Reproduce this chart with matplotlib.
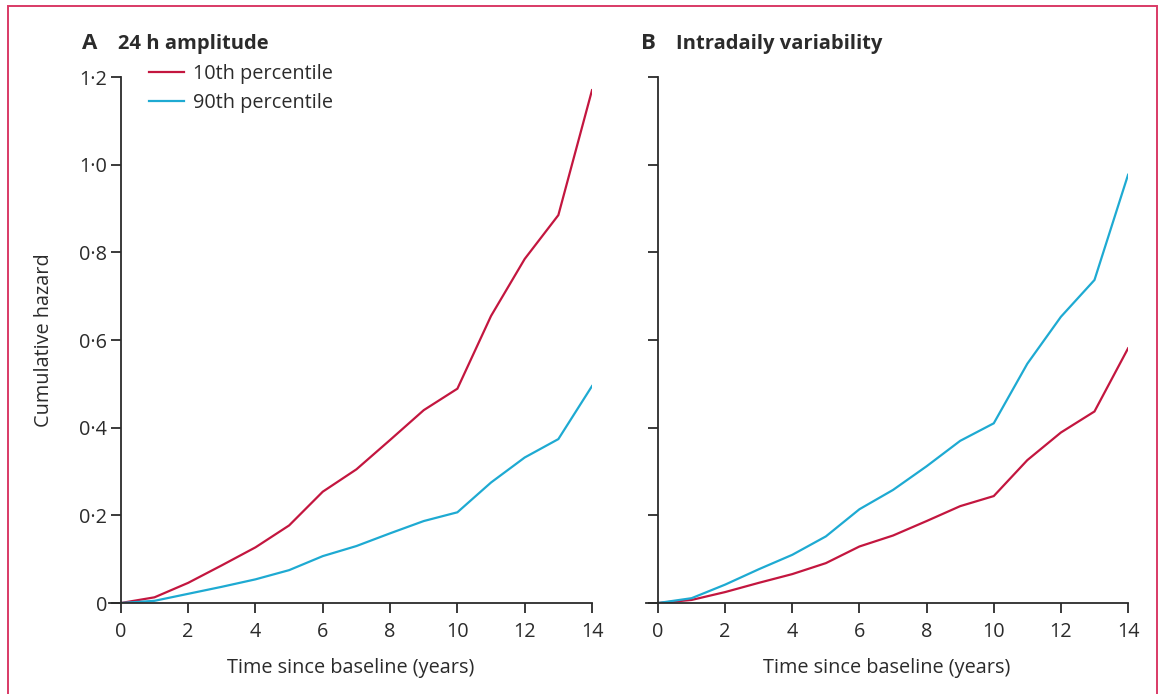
import numpy as np
import matplotlib.pyplot as plt
from matplotlib.patches import Rectangle
from matplotlib.ticker import FuncFormatter

plt.rcParams["font.family"] = ["Open Sans", "DejaVu Sans"]

# Données
years = list(range(0, 15))

amp_p10 = [0, 0.013, 0.046, 0.086, 0.127, 0.177, 0.254, 0.305, 0.372, 0.44,
           0.489, 0.655, 0.785, 0.885, 1.17]
amp_p90 = [0, 0.005, 0.021, 0.037, 0.054, 0.075, 0.107, 0.130, 0.159, 0.187,
           0.207, 0.275, 0.332, 0.374, 0.495]

iv_p10 = [0, 0.007, 0.025, 0.046, 0.066, 0.091, 0.129, 0.154, 0.187, 0.221,
          0.244, 0.326, 0.389, 0.437, 0.581]
iv_p90 = [0, 0.011, 0.042, 0.077, 0.110, 0.152, 0.214, 0.258, 0.312, 0.370,
          0.410, 0.546, 0.653, 0.737, 0.977]

panel_letters = ["A", "B"]
panel_titles = ["24 h amplitude", "Intradaily variability"]
series_labels = ["10th percentile", "90th percentile"]

red = "#c3163f"
blue = "#1eaad2"
dark = "#2b2b2b"
fs = 14.3

fig = plt.figure(figsize=(11.59, 6.94), dpi=100)

# Cadre rose autour de la figure
fig.patches.append(Rectangle(
    (8 / 1159, -0.05), 1149 / 1159, 1.05 - 6 / 694,
    transform=fig.transFigure, fill=False,
    edgecolor="#d93a66", linewidth=1.4
))

ax_a = fig.add_axes([0.0941, 0.1311, 0.4167, 0.7579])
ax_b = fig.add_axes([0.5576, 0.1311, 0.4157, 0.7579])


def dot_format(v, pos):
    if abs(v) < 1e-9:
        return "0"
    return f"{v:.1f}".replace(".", "·")


for i, (ax, p10, p90) in enumerate([(ax_a, amp_p10, amp_p90),
                                    (ax_b, iv_p10, iv_p90)]):
    ax.plot(years, p10, color=red, linewidth=1.6, label=series_labels[0],
            solid_joinstyle="miter")
    ax.plot(years, p90, color=blue, linewidth=1.6, label=series_labels[1],
            solid_joinstyle="miter")

    ax.set_xlim(-0.35, 14)
    ax.set_ylim(0, 1.2)
    ax.set_xticks(range(0, 15, 2))
    ax.set_yticks(np.arange(0, 1.21, 0.2))

    ax.spines["top"].set_visible(False)
    ax.spines["right"].set_visible(False)
    ax.spines["left"].set_position(("data", 0))
    for s in ["left", "bottom"]:
        ax.spines[s].set_color(dark)
        ax.spines[s].set_linewidth(1.3)

    ax.tick_params(direction="out", length=7, width=1.3, color=dark,
                   labelsize=fs, labelcolor=dark, pad=3)
    ax.tick_params(axis="x", pad=7)
    ax.yaxis.set_major_formatter(FuncFormatter(dot_format))
    ax.set_xlabel("Time since baseline (years)", fontsize=fs, color=dark,
                  labelpad=11)

    ax.text(-0.057 if i == 0 else -0.01, 1.063, panel_letters[i],
            transform=ax.transAxes, fontsize=16, fontweight="bold",
            color=dark, va="center", ha="left")
    ax.text(0.019 if i == 0 else 0.061, 1.063, panel_titles[i],
            transform=ax.transAxes, fontsize=14.5, fontweight="bold",
            color=dark, va="center", ha="left")

ax_b.set_yticklabels([])

ax_a.set_ylabel("Cumulative hazard", fontsize=fs, color=dark, labelpad=18)

ax_a.legend(loc="upper left", bbox_to_anchor=(0.066, 1.04), frameon=False,
            fontsize=fs, handlelength=1.76, handletextpad=0.45,
            labelspacing=0.45, borderaxespad=0, labelcolor=dark)

plt.savefig("out.png", dpi=100)
plt.close()
